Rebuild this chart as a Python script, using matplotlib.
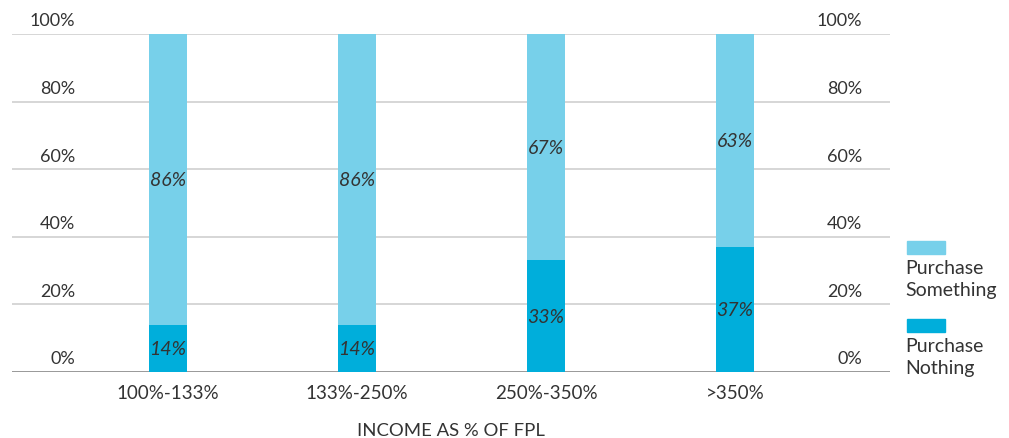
import matplotlib
matplotlib.use("Agg")
from matplotlib import pyplot as plt
from matplotlib.patches import Rectangle
import numpy as np

# Datos
categorias = ["100%-133%", "133%-250%", "250%-350%", ">350%"]
nada = [14, 14, 33, 37]
algo = [86, 86, 67, 63]
series = ["Purchase\nSomething", "Purchase\nNothing"]
ticks_y = [0, 20, 40, 60, 80, 100]

col_algo = "#77D0EA"
col_nada = "#00AEDB"
gris_txt = "#333333"

plt.rcParams['font.family'] = ['Lato', 'DejaVu Sans']

fig = plt.figure(figsize=(10.09, 4.39), dpi=100)
ax = fig.add_axes([12/1009, 66/439, 878/1009, 338/439])

x = np.arange(len(categorias))
ax.bar(x, nada, width=0.2, color=col_nada, zorder=2)
ax.bar(x, algo, bottom=nada, width=0.2, color=col_algo, zorder=2)

# Etiquetas dentro de las barras
for i in range(len(categorias)):
    ax.text(x[i], nada[i] / 2, f"{nada[i]}%", ha="center", va="center",
            style="italic", fontsize=14, color=gris_txt, zorder=3)
    ax.text(x[i], nada[i] + algo[i] / 2, f"{algo[i]}%", ha="center", va="center",
            style="italic", fontsize=14, color=gris_txt, zorder=3)

ax.set_xlim(-0.825, 3.82)
ax.set_ylim(0, 100)

# Lineas de rejilla
for t in ticks_y:
    ax.axhline(t, color="#888888" if t == 0 else "#d0d0d0", lw=1.2, zorder=1)

# Etiquetas del eje y dentro del area
tr = ax.get_yaxis_transform()
for t in ticks_y:
    ax.annotate(f"{t}%", xy=(0.0718, t), xycoords=tr, xytext=(0, 4),
                textcoords="offset points", ha="right", va="bottom",
                fontsize=13, color=gris_txt)
    ax.annotate(f"{t}%", xy=(0.968, t), xycoords=tr, xytext=(0, 4),
                textcoords="offset points", ha="right", va="bottom",
                fontsize=13, color=gris_txt)

ax.set_yticks([])
ax.set_xticks(x)
ax.set_xticklabels(categorias, fontsize=13.5, color=gris_txt)
ax.tick_params(axis="x", length=0, pad=9)
for s in ax.spines.values():
    s.set_visible(False)
ax.set_xlabel("INCOME AS % OF FPL", fontsize=13.3, color=gris_txt, labelpad=15)

# Leyenda manual
for col, txt, ytop in [(col_algo, series[0], 242), (col_nada, series[1], 320)]:
    fig.add_artist(Rectangle((907/1009, 1 - (ytop + 13)/439), 38/1009, 13/439,
                             transform=fig.transFigure, color=col))
    fig.text(905/1009, 1 - (ytop + 18)/439, txt, ha="left", va="top",
             fontsize=14, color=gris_txt, linespacing=1.35)

plt.savefig("out.png", dpi=100)
